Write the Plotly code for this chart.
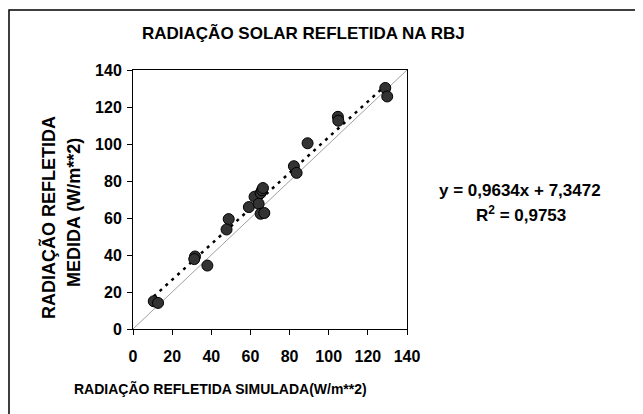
import plotly.graph_objects as go

# Data
simulada = [10.6, 12.8, 31.7, 31.3, 38.0, 48.9, 47.8, 59.2, 62.1, 64.2, 65.2,
            65.9, 66.4, 65.2, 67.1, 82.2, 83.6, 89.2, 104.7, 104.9, 128.9, 129.9]
medida = [15.0, 14.1, 39.2, 37.8, 34.3, 59.4, 53.8, 65.9, 71.5, 67.7, 73.5,
          75.0, 76.2, 62.3, 62.7, 88.0, 84.4, 100.4, 114.7, 112.6, 130.3, 125.7]
slope = 0.9634
intercept = 7.3472
r2 = 0.9753
tick_vals = [0, 20, 40, 60, 80, 100, 120, 140]
title = "RADIAÇÃO SOLAR REFLETIDA NA RBJ"
x_title = "RADIAÇÃO REFLETIDA SIMULADA(W/m**2)"
y_title_1 = "RADIAÇÃO REFLETIDA"
y_title_2 = "MEDIDA (W/m**2)"

W, H = 643, 414
OFF = 8  # page body margin
L, T = 133 - OFF, 70 - OFF
R = W - (407 - OFF)
B = H - (329 - OFF)
pw, ph = W - L - R, H - T - B


def px(x):
    # x in reference-screenshot pixels -> paper coordinate
    return (x - OFF - L) / pw


def py(y):
    return (H - B - (y - OFF)) / ph


FONT = "Liberation Sans, Arial, sans-serif"

xmin, xmax = min(simulada), max(simulada)

fig = go.Figure()
fig.add_trace(go.Scatter(x=[0, 140], y=[0, 140], mode="lines",
                         line=dict(color="#a0a0a0", width=1), hoverinfo="skip"))
fig.add_trace(go.Scatter(x=[xmin, xmax],
                         y=[slope * xmin + intercept, slope * xmax + intercept],
                         mode="lines",
                         line=dict(color="black", width=2.5, dash="3px,5px")))
fig.add_trace(go.Scatter(x=simulada, y=medida, mode="markers",
                         marker=dict(size=11, color="#333333",
                                     line=dict(color="black", width=1))))

axis_common = dict(range=[0, 140], tickvals=tick_vals, showgrid=False,
                   zeroline=False, showline=True, linecolor="black", linewidth=1,
                   mirror=True, ticks="outside", ticklen=5, tickcolor="black",
                   tickfont=dict(family=FONT, size=16, color="black", weight="bold"))
fig.update_xaxes(ticklabelstandoff=8, **axis_common)
fig.update_yaxes(ticklabelstandoff=2, **axis_common)

fig.update_layout(
    width=W, height=H, showlegend=False,
    margin=dict(l=L, r=R, t=T, b=B),
    paper_bgcolor="white", plot_bgcolor="white",
    shapes=[
        dict(type="rect", xref="paper", yref="paper",
             x0=px(9), x1=px(760), y0=py(10), y1=py(520),
             line=dict(color="black", width=1.5), layer="below"),
    ],
    annotations=[
        dict(text="<b>%s</b>" % title, xref="paper", yref="paper",
             x=px(303), y=py(33), showarrow=False, xanchor="center", yanchor="middle",
             font=dict(family=FONT, size=17, color="black")),
        dict(text="<b>%s</b>" % x_title, xref="paper", yref="paper",
             x=px(220), y=py(388), showarrow=False, xanchor="center", yanchor="middle",
             font=dict(family=FONT, size=14, color="black")),
        dict(text="<b>%s</b>" % y_title_1, xref="paper", yref="paper",
             x=px(48), y=py(218), showarrow=False, textangle=-90,
             xanchor="center", yanchor="middle",
             font=dict(family=FONT, size=18, color="black")),
        dict(text="<b>%s</b>" % y_title_2, xref="paper", yref="paper",
             x=px(74), y=py(213), showarrow=False, textangle=-90,
             xanchor="center", yanchor="middle",
             font=dict(family=FONT, size=18, color="black")),
        dict(text="<b>y = %s</b>" % ("%.4fx + %.4f" % (slope, intercept)).replace(".", ","),
             xref="paper", yref="paper",
             x=px(520), y=py(190), showarrow=False, xanchor="center", yanchor="middle",
             font=dict(family=FONT, size=17, color="black")),
        dict(text="<b>R<sup>2</sup> = %s</b>" % ("%.4f" % r2).replace(".", ","),
             xref="paper", yref="paper",
             x=px(521), y=py(214), showarrow=False, xanchor="center", yanchor="middle",
             font=dict(family=FONT, size=17, color="black")),
    ],
)

fig.write_html("out.html")
